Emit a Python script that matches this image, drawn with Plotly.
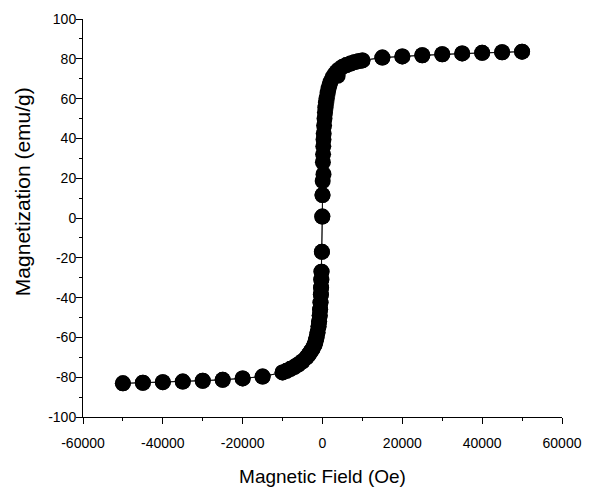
import plotly.graph_objects as go

# Descending branch (+50000 -> -50000 Oe)
field_down = [50000, 45000, 40000, 35000, 30000, 25000, 20000, 15000, 10000,
              9000, 8000, 7000, 6000, 5000, 4000, 3500, 3000, 2500, 2000, 1750,
              1500, 1250, 1000, 850, 700, 600, 500, 400, 300, 250, 200, 150, 100,
              50, 0, -50, -150, -250, -300, -350, -400, -500, -600, -700, -850,
              -1000, -1250, -1500, -1750, -2000, -2500, -3000, -3500, -4000,
              -5000, -6000, -7000, -8000, -9000, -10000,
              -15000, -20000, -25000, -30000, -35000, -40000, -45000, -50000]
mag_down = [83.6, 83.3, 83.0, 82.7, 82.3, 81.8, 81.2, 80.6, 79.2,
            78.8, 78.3, 77.6, 76.9, 75.9, 74.5, 73.4, 72.2, 70.6, 68.4, 66.8,
            65.0, 62.8, 60.2, 58.0, 55.5, 53.0, 50.0, 46.5, 42.5, 39.5, 36.0, 32.0, 28.0,
            18.6, 11.5, 0.7, -17.0, -27.0, -31.0, -35.0, -38.5, -42.5, -46.0, -49.0, -52.0,
            -54.5, -57.5, -60.0, -62.0, -63.8, -65.8, -67.3, -68.8, -70.0,
            -72.0, -73.5, -74.8, -75.8, -76.8, -77.6,
            -79.7, -80.6, -81.3, -81.8, -82.2, -82.5, -82.8, -83.1]

# Ascending branch (-50000 -> +50000 Oe)
field_up = [-50000, -45000, -40000, -35000, -30000, -25000, -20000, -15000, -10000,
            -9000, -8000, -7000, -6000, -5000, -4000, -3500, -3000, -2500, -2000,
            -1750, -1500, -1250, -1000, -850, -700, -600, -500, -400, -350, -300,
            -250, -150, -50, 0, 250, 3800, 5000, 6000, 7000, 8000, 9000, 10000,
            15000, 20000, 25000, 30000, 35000, 40000, 45000, 50000]
mag_up = [-83.1, -82.8, -82.5, -82.2, -81.8, -81.3, -80.6, -79.7, -77.6,
          -76.8, -75.8, -74.8, -73.5, -72.0, -70.0, -68.8, -67.3, -65.8, -63.8,
          -62.0, -60.0, -57.5, -54.5, -52.0, -49.0, -46.0, -42.5, -38.5, -35.0, -31.0,
          -27.0, -17.0, 0.7, 11.5, 22.0, 71.5, 75.9, 76.9, 77.6, 78.3, 78.8, 79.2,
          80.6, 81.2, 81.8, 82.3, 82.7, 83.0, 83.3, 83.6]

x_ticks = [-60000, -40000, -20000, 0, 20000, 40000, 60000]
x_tick_labels = ["-60000", "-40000", "-20000", "0", "20000", "40000", "60000"]
y_ticks = [-100, -80, -60, -40, -20, 0, 20, 40, 60, 80, 100]
y_tick_labels = ["-100", "-80", "-60", "-40", "-20", "0", "20", "40", "60", "80", "100"]

field = field_down + field_up
mag = mag_down + mag_up

FONT = "Arial, 'Liberation Sans', sans-serif"

fig = go.Figure()
fig.add_trace(go.Scatter(
    x=field, y=mag, mode="lines+markers",
    line=dict(color="black", width=0.8),
    marker=dict(color="black", size=16, line=dict(width=0)),
    showlegend=False,
))

axis_common = dict(
    showline=True, linecolor="black", linewidth=1,
    ticks="outside", ticklen=6, tickwidth=1, tickcolor="black",
    showgrid=False, zeroline=False, mirror=False,
    tickfont=dict(family=FONT, size=14, color="black"),
)

fig.update_xaxes(
    range=[-60000, 60000], tickmode="array", tickvals=x_ticks, ticktext=x_tick_labels,
    minor=dict(tickmode="linear", dtick=10000, ticks="outside", ticklen=3, tickcolor="black", showgrid=False),
    ticklabelstandoff=7,
    title=dict(text="Magnetic Field (Oe)", font=dict(family=FONT, size=19, color="black"), standoff=19),
    **axis_common,
)
fig.update_yaxes(
    range=[-100, 100], tickmode="array", tickvals=y_ticks, ticktext=y_tick_labels,
    minor=dict(tickmode="linear", dtick=10, ticks="outside", ticklen=3, tickcolor="black", showgrid=False),
    ticklabelstandoff=-3,
    **axis_common,
)

fig.add_annotation(
    text="Magnetization (emu/g)", textangle=-90,
    xref="paper", yref="paper", x=-0.1273, y=0.565,
    xanchor="center", yanchor="middle", showarrow=False,
    font=dict(family=FONT, size=21, color="black"),
)

fig.update_layout(
    width=590, height=489,
    margin=dict(l=75, r=36, t=11, b=80, autoexpand=False),
    plot_bgcolor="white", paper_bgcolor="white",
    font=dict(family=FONT, color="black"),
)

fig.write_html("out.html")
